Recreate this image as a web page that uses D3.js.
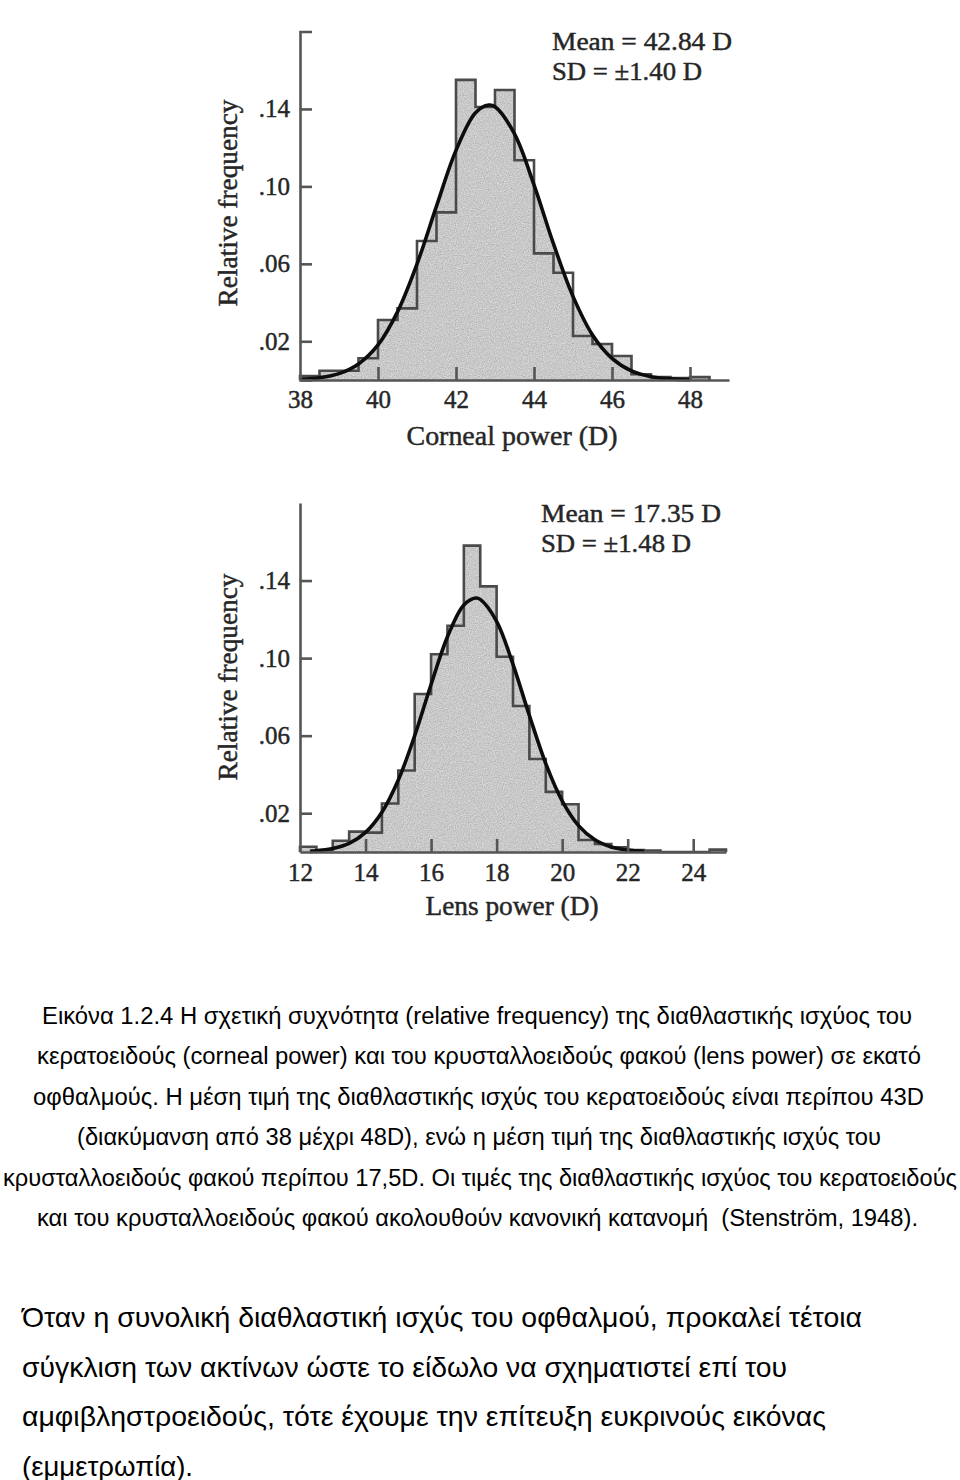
<!DOCTYPE html>
<html><head><meta charset="utf-8">
<script src="https://cdn.jsdelivr.net/npm/d3@7"></script>
<style>
body{margin:0;background:#fff;}
svg{display:block;}
.cap{font-family:"Liberation Sans",Arial,sans-serif;fill:#000;white-space:pre;}
.ser{font-family:"Liberation Serif","Times New Roman",serif;fill:#262626;stroke:#262626;stroke-width:0.45;}
</style></head><body>
<svg id="c" width="960" height="1480">
  <defs>
    <filter id="grain" filterUnits="userSpaceOnUse" x="0" y="0" width="960" height="960" color-interpolation-filters="sRGB">
      <feTurbulence type="fractalNoise" baseFrequency="0.85" numOctaves="2" seed="4" result="n"/>
      <feColorMatrix in="n" type="matrix" values="0.33 0.33 0.33 0 0  0.33 0.33 0.33 0 0  0.33 0.33 0.33 0 0  0 0 0 0 1" result="g"/>
      <feComponentTransfer in="g" result="m">
        <feFuncR type="linear" slope="0.45" intercept="0.565"/>
        <feFuncG type="linear" slope="0.45" intercept="0.565"/>
        <feFuncB type="linear" slope="0.45" intercept="0.565"/>
      </feComponentTransfer>
      <feComposite in="m" in2="SourceGraphic" operator="in"/>
    </filter>
  </defs>
</svg>
<script>
// ---------- data ----------
const cornealBins = [38.0,38.5,39.0,39.5,40.0,40.5,41.0,41.5,42.0,42.5,43.0,43.5,44.0,44.5,45.0,45.5,46.0,46.5,47.0,47.5,48.0];
const cornealFreq = [0.002,0.0048,0.0048,0.0112,0.031,0.037,0.0718,0.0866,0.155,0.141,0.1498,0.1135,0.0654,0.0554,0.0227,0.0186,0.0124,0.003,0.0015,0.001,0.0015];
const cornealCurveX = [38,38.5,39,39.5,40,40.5,41,41.5,42,42.5,42.84,43,43.5,44,44.5,45,45.5,46,46.5,47,47.5,48];
const cornealCurveY = [0.0004,0.0012,0.0033,0.0083,0.0181,0.0352,0.0599,0.0898,0.1186,0.138,0.142,0.1411,0.1271,0.1008,0.0703,0.0432,0.0233,0.0112,0.0047,0.0017,0.0006,0.0002];
const cornealTicks = [38,40,42,44,46,48];
const cornealStats = ["Mean = 42.84 D","SD = \u00b11.40 D"];

const lensBins = [12.0,12.5,13.0,13.5,14.0,14.5,15.0,15.5,16.0,16.5,17.0,17.5,18.0,18.5,19.0,19.5,20.0,20.5,21.0,21.5,22.0,22.5,23.0,23.5,24.0,24.5];
const lensFreq = [0.0027,0.001,0.0058,0.0105,0.010,0.025,0.042,0.0815,0.102,0.1167,0.158,0.137,0.1007,0.0753,0.048,0.031,0.0246,0.0062,0.0041,0.0024,0.001,0.0008,0,0,0,0.0012];
const lensCurveX = [12.3,12.5,13,13.5,14,14.5,15,15.5,16,16.5,17,17.37,17.5,18,18.5,19,19.5,20,20.5,21,21.5,22,22.5];
const lensCurveY = [0.0003,0.0006,0.0018,0.0044,0.0101,0.0205,0.0371,0.060,0.0864,0.111,0.1274,0.131,0.1303,0.119,0.0968,0.0704,0.0456,0.0264,0.0136,0.0063,0.0026,0.001,0.0003];
const lensTicks = [12,14,16,18,20,22,24];
const lensStats = ["Mean = 17.35 D","SD = \u00b11.48 D"];

const yTicks = [0.02,0.06,0.10,0.14];
const binWidth = 0.5;

const captionLines = [
 "Εικόνα 1.2.4 Η σχετική συχνότητα (relative frequency) της διαθλαστικής ισχύος του",
 "κερατοειδούς (corneal power) και του κρυσταλλοειδούς φακού (lens power) σε εκατό",
 "οφθαλμούς. Η μέση τιμή της διαθλαστικής ισχύς του κερατοειδούς είναι περίπου 43D",
 "(διακύμανση από 38 μέχρι 48D), ενώ η μέση τιμή της διαθλαστικής ισχύς του",
 "κρυσταλλοειδούς φακού περίπου 17,5D. Οι τιμές της διαθλαστικής ισχύος του κερατοειδούς",
 "και του κρυσταλλοειδούς φακού ακολουθούν κανονική κατανομή  (Stenström, 1948)."
];
const paragraphLines = [
 "Όταν η συνολική διαθλαστική ισχύς του οφθαλμού, προκαλεί τέτοια",
 "σύγκλιση των ακτίνων ώστε το είδωλο να σχηματιστεί επί του",
 "αμφιβληστροειδούς, τότε έχουμε την επίτευξη ευκρινούς εικόνας",
 "(εμμετρωπία)."
];

// ---------- drawing ----------
const svg = d3.select("#c");

function drawChart(o){
  const x = d3.scaleLinear().domain(o.xDomain).range([300, o.xEnd]);
  const y = d3.scaleLinear().domain([0, 0.18]).range([o.yZero, o.yTop]);
  const g = svg.append("g");
  const curvePts = o.cx.map((v,i)=>[v,o.cy[i]]);
  const interp = v => {
    for (let i=0;i<curvePts.length-1;i++){
      const a=curvePts[i], b=curvePts[i+1];
      if (v>=a[0] && v<=b[0]) return a[1]+(b[1]-a[1])*(v-a[0])/(b[0]-a[0]);
    }
    return 0;
  };
  const shade = g.append("g").attr("filter","url(#grain)");
  shade.append("path")
    .datum(curvePts)
    .attr("fill","#cccccc")
    .attr("d", d3.area().x(d=>x(d[0])).y0(y(0)).y1(d=>y(d[1])).curve(d3.curveCatmullRom));
  shade.selectAll("rect.bar").data(o.bins.map((b,i)=>({b, v:o.freq[i]})).filter(d=>d.v>interp(d.b+binWidth/2)))
    .join("rect").attr("class","bar")
    .attr("x", d=>x(d.b)).attr("width", d=>x(d.b+binWidth)-x(d.b))
    .attr("y", d=>y(d.v)).attr("height", d=>y(0)-y(d.v))
    .attr("fill","#cccccc");
  // histogram step outline
  const steps = [[o.bins[0],0]].concat(o.bins.map((b,i)=>[b,o.freq[i]]));
  const last = o.bins.length-1;
  steps.push([o.bins[last]+binWidth, o.freq[last]]);
  steps.push([o.bins[last]+binWidth, 0]);
  g.append("path").datum(steps)
    .attr("fill","none").attr("stroke","#4a4a4a").attr("stroke-width",2.6)
    .attr("d", d3.line().x(d=>x(d[0])).y(d=>y(d[1])).curve(d3.curveStepAfter));
  // fitted curve
  g.append("path").datum(curvePts)
    .attr("fill","none").attr("stroke","#0d0d0d").attr("stroke-width",3.6)
    .attr("d", d3.line().x(d=>x(d[0])).y(d=>y(d[1])).curve(d3.curveCatmullRom));
  // axes
  const xa = g.append("g").attr("transform",`translate(0,${y(0)})`)
    .call(d3.axisBottom(x).tickValues(o.ticks).tickSize(-13).tickSizeOuter(0).tickPadding(o.xPad).tickFormat(d3.format("d")));
  const ya = g.append("g").attr("transform","translate(300,0)")
    .call(d3.axisLeft(y).tickValues(yTicks).tickSize(-12).tickSizeOuter(o.outer).tickPadding(10)
      .tickFormat(d=>d3.format(".2f")(d).replace(/^0/,"")));
  [xa,ya].forEach(a=>{
    a.selectAll("path.domain").attr("stroke","#555").attr("stroke-width",2.6);
    a.selectAll(".tick line").attr("stroke","#555").attr("stroke-width",2.6);
    a.selectAll(".tick text").attr("class","ser").attr("font-size",25)
      .style("font-family","'Liberation Serif','Times New Roman',serif");
  });
  xa.selectAll(".tick").filter(d=>d===o.xDomain[0]).select("line").remove();
  // labels
  g.append("text").attr("class","ser").attr("font-size",27)
    .attr("text-anchor","middle").attr("x",o.xlx).attr("y",o.xly)
    .attr("textLength",o.xlw).attr("lengthAdjust","spacingAndGlyphs").text(o.xlabel);
  g.append("text").attr("class","ser").attr("font-size",27)
    .attr("text-anchor","middle")
    .attr("transform",`translate(237,${o.ylc}) rotate(-90)`)
    .attr("textLength",207).attr("lengthAdjust","spacingAndGlyphs").text("Relative frequency");
  g.selectAll("text.stat").data(o.stats).join("text").attr("class","ser stat")
    .attr("font-size",26).attr("x",o.sx).attr("y",(d,i)=>o.sy+i*30)
    .attr("textLength",(d,i)=>i===0?180:150).attr("lengthAdjust","spacingAndGlyphs").text(d=>d);
}

drawChart({xDomain:[38,49], xEnd:729, yZero:380, yTop:31.5, bins:cornealBins, freq:cornealFreq,
  cx:cornealCurveX, cy:cornealCurveY, ticks:cornealTicks, outer:-12, xPad:10,
  xlabel:"Corneal power (D)", xlx:512, xly:445, xlw:211, ylc:203, stats:cornealStats, sx:552, sy:50});
drawChart({xDomain:[12,25], xEnd:726, yZero:852, yTop:503, bins:lensBins, freq:lensFreq,
  cx:lensCurveX, cy:lensCurveY, ticks:lensTicks, outer:0, xPad:11,
  xlabel:"Lens power (D)", xlx:512, xly:915, xlw:173, ylc:677, stats:lensStats, sx:541, sy:522});

// caption
const capCenters = [477,479,478.5,479,480,477.5];
const capWidths = [870,884,891,804,954,881];
svg.selectAll("text.capl").data(captionLines).join("text").attr("class","cap capl")
  .attr("font-size",23).attr("text-anchor","middle")
  .attr("x",(d,i)=>capCenters[i]).attr("y",(d,i)=>1024+i*40.4)
  .attr("textLength",(d,i)=>capWidths[i]).attr("lengthAdjust","spacingAndGlyphs").text(d=>d);
const parWidths = [840,765,804,171];
svg.selectAll("text.par").data(paragraphLines).join("text").attr("class","cap par")
  .attr("font-size",28).attr("x",22).attr("y",(d,i)=>1327+i*49.5)
  .attr("textLength",(d,i)=>parWidths[i]).attr("lengthAdjust","spacingAndGlyphs").text(d=>d);
</script>
</body></html>
